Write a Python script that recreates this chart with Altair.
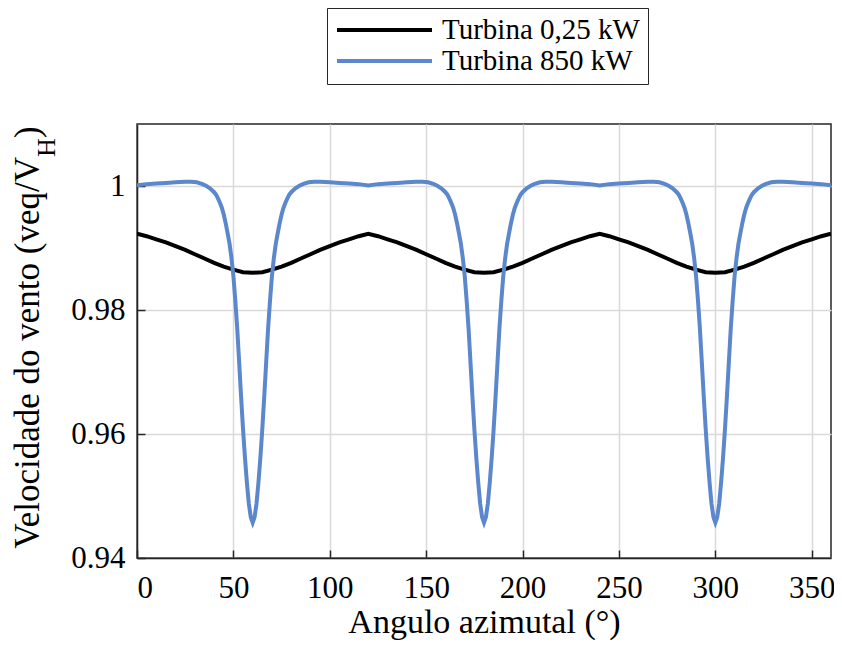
import altair as alt
import pandas as pd

FONT = "Liberation Serif"

series_names = ["Turbina 0,25 kW", "Turbina 850 kW"]
series_colors = ["#000000", "#5B87CC"]

x_ticks = [0, 50, 100, 150, 200, 250, 300, 350]
y_ticks = [0.94, 0.96, 0.98, 1.0]

# Turbina 0,25 kW (every 5 degrees)
angles_small = list(range(0, 361, 5))
vel_small = [
    0.9923, 0.9919, 0.9914, 0.9909, 0.9903, 0.9897, 0.9890, 0.9883, 0.9876, 0.9870, 0.9865, 0.9861,
    0.9860, 0.9861, 0.9865, 0.9870, 0.9876, 0.9883, 0.9890, 0.9897, 0.9903, 0.9909, 0.9914, 0.9919,
    0.9923, 0.9919, 0.9914, 0.9909, 0.9903, 0.9897, 0.9890, 0.9883, 0.9876, 0.9870, 0.9865, 0.9861,
    0.9860, 0.9861, 0.9865, 0.9870, 0.9876, 0.9883, 0.9890, 0.9897, 0.9903, 0.9909, 0.9914, 0.9919,
    0.9923, 0.9919, 0.9914, 0.9909, 0.9903, 0.9897, 0.9890, 0.9883, 0.9876, 0.9870, 0.9865, 0.9861,
    0.9860, 0.9861, 0.9865, 0.9870, 0.9876, 0.9883, 0.9890, 0.9897, 0.9903, 0.9909, 0.9914, 0.9919,
    0.9923,
]

# Turbina 850 kW
angles_big = (
    [0, 5, 10, 15, 20, 25, 28, 31, 34, 36, 38] + list(range(40, 81))
    + [82, 84, 86, 89, 92, 95, 100, 105, 110, 115]
    + [120, 125, 130, 135, 140, 145, 148, 151, 154, 156, 158] + list(range(160, 201))
    + [202, 204, 206, 209, 212, 215, 220, 225, 230, 235]
    + [240, 245, 250, 255, 260, 265, 268, 271, 274, 276, 278] + list(range(280, 321))
    + [322, 324, 326, 329, 332, 335, 340, 345, 350, 355]
    + [360]
)
vel_big = [
    1.0001, 1.0003, 1.0004, 1.0005, 1.0006, 1.0007, 1.0007, 1.0006, 1.0003, 1.0000, 0.9996,
    0.9990, 0.9986, 0.9980, 0.9973, 0.9965, 0.9954, 0.9940, 0.9924, 0.9907, 0.9884,
    0.9855, 0.9815, 0.9770, 0.9715, 0.9660, 0.9608, 0.9562, 0.9522, 0.9488, 0.9466,
    0.9457,
    0.9466, 0.9488, 0.9522, 0.9562, 0.9608, 0.9660, 0.9715, 0.9770, 0.9815, 0.9855,
    0.9884, 0.9907, 0.9924, 0.9940, 0.9954, 0.9965, 0.9973, 0.9980, 0.9986, 0.9990,
    0.9996, 1.0000, 1.0003, 1.0006, 1.0007, 1.0007, 1.0006, 1.0005, 1.0004, 1.0003,

    1.0001, 1.0003, 1.0004, 1.0005, 1.0006, 1.0007, 1.0007, 1.0006, 1.0003, 1.0000, 0.9996,
    0.9990, 0.9986, 0.9980, 0.9973, 0.9965, 0.9954, 0.9940, 0.9924, 0.9907, 0.9884,
    0.9855, 0.9815, 0.9770, 0.9715, 0.9660, 0.9608, 0.9562, 0.9522, 0.9488, 0.9466,
    0.9457,
    0.9466, 0.9488, 0.9522, 0.9562, 0.9608, 0.9660, 0.9715, 0.9770, 0.9815, 0.9855,
    0.9884, 0.9907, 0.9924, 0.9940, 0.9954, 0.9965, 0.9973, 0.9980, 0.9986, 0.9990,
    0.9996, 1.0000, 1.0003, 1.0006, 1.0007, 1.0007, 1.0006, 1.0005, 1.0004, 1.0003,

    1.0001, 1.0003, 1.0004, 1.0005, 1.0006, 1.0007, 1.0007, 1.0006, 1.0003, 1.0000, 0.9996,
    0.9990, 0.9986, 0.9980, 0.9973, 0.9965, 0.9954, 0.9940, 0.9924, 0.9907, 0.9884,
    0.9855, 0.9815, 0.9770, 0.9715, 0.9660, 0.9608, 0.9562, 0.9522, 0.9488, 0.9466,
    0.9457,
    0.9466, 0.9488, 0.9522, 0.9562, 0.9608, 0.9660, 0.9715, 0.9770, 0.9815, 0.9855,
    0.9884, 0.9907, 0.9924, 0.9940, 0.9954, 0.9965, 0.9973, 0.9980, 0.9986, 0.9990,
    0.9996, 1.0000, 1.0003, 1.0006, 1.0007, 1.0007, 1.0006, 1.0005, 1.0004, 1.0003,

    1.0001,
]

x_title = "Angulo azimutal (°)"
y_title_main = "Velocidade do vento (veq/V"
y_title_sub = "H"
y_title_end = ")"

W, H = 694, 434

rows = []
for a, v in zip(angles_small, vel_small):
    rows.append({"angle": a, "vel": v, "serie": series_names[0]})
for a, v in zip(angles_big, vel_big):
    rows.append({"angle": a, "vel": v, "serie": series_names[1]})
df = pd.DataFrame(rows)

xscale = alt.Scale(domain=[0, 360], nice=False, zero=False)
yscale = alt.Scale(domain=[0.94, 1.01], nice=False, zero=False)

lines = alt.Chart(df).mark_line(strokeWidth=4, clip=True).encode(
    x=alt.X("angle:Q", scale=xscale,
            axis=alt.Axis(orient="bottom", values=x_ticks, title=x_title, ticks=False, tickSize=0,
                          labelPadding=15, grid=True, titleY=74, titleBaseline="alphabetic",
                          titleFontSize=34)),
    y=alt.Y("vel:Q", scale=yscale,
            axis=alt.Axis(orient="left", values=y_ticks, format="~g", title=None, ticks=False,
                          tickSize=0, labelPadding=12, grid=True)),
    color=alt.Color("serie:N",
                    scale=alt.Scale(domain=series_names, range=series_colors),
                    legend=alt.Legend(orient="none", legendX=190, legendY=-116, title=None,
                                      symbolType="stroke", symbolSize=9025, symbolStrokeWidth=4,
                                      clipHeight=28, rowPadding=2, padding=8,
                                      labelFontSize=29, labelFont=FONT, labelColor="black",
                                      labelOffset=8, labelLimit=400,
                                      strokeColor="#262626", fillColor="white")),
)

tick_layer = alt.Chart(df).mark_line(opacity=0).encode(
    x=alt.X("angle:Q", scale=xscale,
            axis=alt.Axis(orient="top", offset=-H, values=x_ticks, labels=False, domain=False,
                          grid=False, ticks=True, tickSize=8, tickColor="#262626",
                          tickWidth=1.5, title=None)),
    y=alt.Y("vel:Q", scale=yscale,
            axis=alt.Axis(orient="right", offset=-W, values=y_ticks, labels=False, domain=False,
                          grid=False, ticks=True, tickSize=8, tickColor="#262626",
                          tickWidth=1.5, title=None)),
)

one = pd.DataFrame({"k": [0]})
t_main = alt.Chart(one).mark_text(text=y_title_main, angle=270, align="right", baseline="alphabetic",
                                  fontSize=35, font=FONT, color="black").encode(
    x=alt.value(-98), y=alt.value(33))
t_sub = alt.Chart(one).mark_text(text=y_title_sub, angle=270, align="left", baseline="alphabetic",
                                 fontSize=26, font=FONT, color="black").encode(
    x=alt.value(-82), y=alt.value(33))
t_end = alt.Chart(one).mark_text(text=y_title_end, angle=270, align="left", baseline="alphabetic",
                                 fontSize=35, font=FONT, color="black").encode(
    x=alt.value(-98), y=alt.value(14))

chart = alt.layer(lines, tick_layer, t_main, t_sub, t_end).resolve_axis(
    x="independent", y="independent"
).properties(
    width=W, height=H,
    autosize=alt.AutoSizeParams(type="none"),
    padding={"left": 129, "top": 116, "right": 3, "bottom": 84},
).configure_view(
    stroke="#262626", strokeWidth=1.5
).configure_axis(
    labelFont=FONT, labelFontSize=31, labelColor="black",
    titleFont=FONT, titleFontSize=35, titleColor="black", titleFontWeight="normal",
    domainColor="#262626", domainWidth=1.5,
    gridColor="#d9d9d9", gridWidth=1.5,
)

chart.save("out.html", embed_options={"renderer": "svg", "actions": False})
